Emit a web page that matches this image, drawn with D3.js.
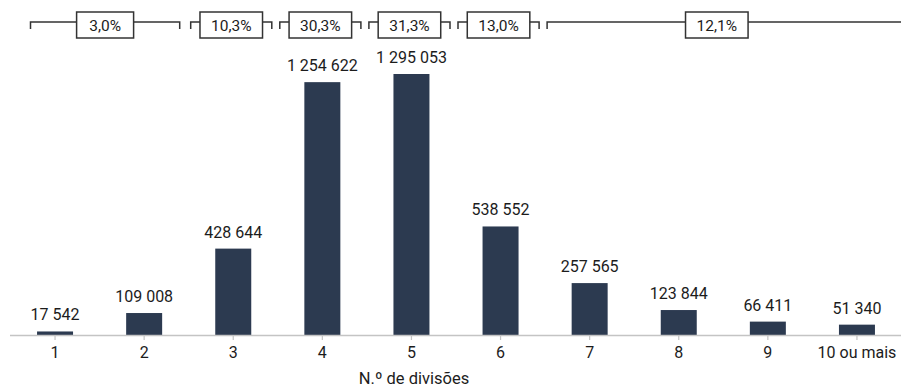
<!DOCTYPE html>
<html>
<head>
<meta charset="utf-8">
<script src="https://cdn.jsdelivr.net/npm/d3@7"></script>
<style>
  html, body { margin: 0; padding: 0; background: #fff; }
  svg { display: block; font-family: Roboto, "Noto Sans", sans-serif; }
</style>
</head>
<body>
<svg id="chart" width="901" height="387"></svg>
<script>
const categories = ["1", "2", "3", "4", "5", "6", "7", "8", "9", "10 ou mais"];
const values = [17542, 109008, 428644, 1254622, 1295053, 538552, 257565, 123844, 66411, 51340];
const groupFrom = ["1", "3", "4", "5", "6", "7"];
const groupTo = ["2", "3", "4", "5", "6", "10 ou mais"];
const groupLabels = ["3,0%", "10,3%", "30,3%", "31,3%", "13,0%", "12,1%"];
const axisTitle = "N.º de divisões";

const W = 901, H = 387;
const baseY = 335;
const svg = d3.select("#chart");

const x = d3.scaleBand()
  .domain(categories)
  .range([10.5, 901.5])
  .paddingInner(0.596)
  .paddingOuter(0.298);

const y = d3.scaleLinear()
  .domain([0, 1295053])
  .range([baseY, 74]);

const locale = d3.formatLocale({ decimal: ",", thousands: " ", grouping: [3], currency: ["", "€"] });
const fmt = locale.format(",d");

const barColor = "#2c3a50";
const textColor = "#1c1c1c";

// bars
svg.append("g").selectAll("rect")
  .data(values)
  .join("rect")
  .attr("x", (d, i) => x(categories[i]))
  .attr("width", x.bandwidth())
  .attr("y", d => y(d))
  .attr("height", d => baseY - y(d))
  .attr("fill", barColor);

// value labels
svg.append("g").selectAll("text")
  .data(values)
  .join("text")
  .attr("x", (d, i) => x(categories[i]) + x.bandwidth() / 2)
  .attr("y", d => y(d) - 11)
  .attr("text-anchor", "middle")
  .attr("font-size", 16)
  .attr("fill", textColor)
  .text(d => fmt(d));

// axis
const axis = svg.append("g")
  .attr("transform", `translate(0,${baseY})`)
  .call(d3.axisBottom(x).tickSize(5).tickPadding(7).tickSizeOuter(0));
axis.select(".domain").attr("stroke", "#c4c4c4").attr("stroke-width", 1.5)
  .attr("d", "M10,0.5H901");
axis.selectAll(".tick line").attr("stroke", "#c4c4c4").attr("stroke-width", 1.2);
axis.selectAll(".tick text")
  .attr("font-size", 16)
  .attr("fill", textColor)
  .attr("font-family", "Roboto, 'Noto Sans', sans-serif");

// axis title
svg.append("text")
  .attr("x", 414)
  .attr("y", 384)
  .attr("text-anchor", "middle")
  .attr("font-size", 16.5)
  .attr("fill", textColor)
  .text(axisTitle);

// brackets
const step = x.step();
const lineY = 22, hookY = 29, boxTop = 12, boxH = 26;
const bg = svg.append("g");
groupLabels.forEach((lab, i) => {
  let x0 = x(groupFrom[i]) + x.bandwidth() / 2 - step / 2 + 2;
  let x1 = x(groupTo[i]) + x.bandwidth() / 2 + step / 2 - 6;
  if (i === 0) { x0 += 18; x1 -= 3; }
  let cx = (x0 + x1) / 2;
  let lineEnd = x1;
  if (i === groupLabels.length - 1) { cx = (x0 + x1 - 9) / 2; lineEnd = W + 2; }
  const g = bg.append("g");
  g.append("path")
    .attr("d", `M${x0},${hookY}V${lineY}H${lineEnd}V${hookY}`)
    .attr("fill", "none")
    .attr("stroke", "#333")
    .attr("stroke-width", 1.5);
  const t = g.append("text")
    .attr("x", cx)
    .attr("y", boxTop + boxH / 2 + 5.5)
    .attr("text-anchor", "middle")
    .attr("font-size", 15.5)
    .attr("fill", textColor)
    .text(lab);
  const bb = t.node().getBBox();
  const bw = Math.max(bb.width + 22, 57);
  g.insert("rect", "text")
    .attr("x", cx - bw / 2)
    .attr("y", boxTop)
    .attr("width", bw)
    .attr("height", boxH)
    .attr("fill", "#fff")
    .attr("stroke", "#333")
    .attr("stroke-width", 1.5);
});
</script>
</body>
</html>
